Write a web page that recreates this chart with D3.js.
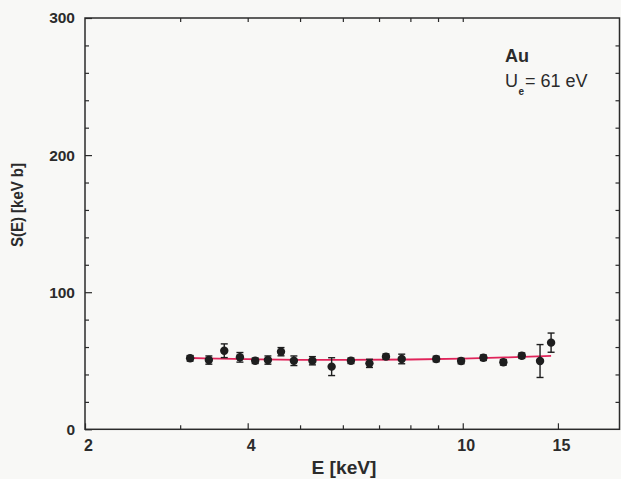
<!DOCTYPE html>
<html>
<head>
<meta charset="utf-8">
<script src="https://cdn.jsdelivr.net/npm/d3@7"></script>
<style>
  html, body { margin: 0; padding: 0; background: #f8f8f6; }
  svg { display: block; }
  text { font-family: "Liberation Sans", Arial, Helvetica, sans-serif; fill: #2b2b2b; }
</style>
</head>
<body>
<svg id="chart" width="621" height="479"></svg>
<script>
// Measured astrophysical S-factor for the Au target
const energy  = [3.13, 3.39, 3.62, 3.87, 4.13, 4.36, 4.61, 4.87, 5.27, 5.72, 6.21,
                 6.72, 7.21, 7.71, 8.93, 9.93, 10.92, 11.89, 12.86, 13.9, 14.57];
const sFactor = [51.8, 50.5, 57.3, 52.5, 50.0, 50.5, 56.6, 50.0, 50.0, 45.7, 50.0,
                 48.1, 53.0, 51.3, 51.3, 49.8, 52.2, 48.9, 53.7, 49.8, 63.2];
const sError  = [2, 3, 5, 3.5, 2, 3, 3, 3.5, 3, 6.5, 2,
                 3, 2, 3.5, 2, 2, 2, 2, 2, 12, 7];

// Screening fit curve (Ue = 61 eV)
const fitE = [3.13, 4, 5, 6, 8, 10, 12, 14.57];
const fitS = [52.0, 51.2, 50.7, 50.6, 50.9, 51.6, 52.4, 53.6];

// Axis ticks
const xLabelTicks = [2, 4, 10, 15];
const xMinorTicks = [3, 5, 6, 7, 8, 9];
const yLabelTicks = [0, 100, 200, 300];
const yMinorTicks = [20, 40, 60, 80, 120, 140, 160, 180, 220, 240, 260, 280];

(function () {
  const svg = d3.select("#chart");
  const mLeft = 85, mRight = 619.5, mTop = 18, mBottom = 429.3;

  const x = d3.scaleLog().domain([2, 19.5]).range([mLeft, mRight]);
  const y = d3.scaleLinear().domain([0, 300]).range([mBottom, mTop]);

  const ink = "#2b2b2b";

  // bottom axis with labels
  const gx = svg.append("g").attr("transform", `translate(0,${mBottom})`)
    .call(d3.axisBottom(x).tickValues(xLabelTicks).tickSize(-6).tickPadding(10)
          .tickFormat(d3.format("d")));
  gx.select(".domain").remove();
  gx.selectAll("line").attr("stroke", ink).attr("stroke-width", 1.2);
  gx.selectAll("text").attr("font-size", 16).attr("font-weight", "bold")
    .attr("fill", ink).attr("dx", 3);

  svg.append("g").attr("transform", `translate(0,${mBottom})`)
    .call(d3.axisBottom(x).tickValues(xMinorTicks).tickSize(-4).tickFormat(""))
    .call(g => g.select(".domain").remove())
    .selectAll("line").attr("stroke", ink).attr("stroke-width", 1.2);

  // top mirrored ticks
  svg.append("g").attr("transform", `translate(0,${mTop})`)
    .call(d3.axisTop(x).tickValues([...xMinorTicks, 4, 10]).tickSize(-4).tickFormat(""))
    .call(g => g.select(".domain").remove())
    .selectAll("line").attr("stroke", ink).attr("stroke-width", 1.2);

  // left axis with labels
  const gy = svg.append("g").attr("transform", `translate(${mLeft},0)`)
    .call(d3.axisLeft(y).tickValues(yLabelTicks).tickSize(-7).tickPadding(10)
          .tickFormat(d3.format("d")));
  gy.select(".domain").remove();
  gy.selectAll("line").attr("stroke", ink).attr("stroke-width", 1.2);
  gy.selectAll("text").attr("font-size", 15.5).attr("font-weight", "bold").attr("fill", ink);

  svg.append("g").attr("transform", `translate(${mLeft},0)`)
    .call(d3.axisLeft(y).tickValues(yMinorTicks).tickSize(-4).tickFormat(""))
    .call(g => g.select(".domain").remove())
    .selectAll("line").attr("stroke", ink).attr("stroke-width", 1.2);

  // right mirrored ticks
  svg.append("g").attr("transform", `translate(${mRight},0)`)
    .call(d3.axisRight(y).tickValues([...yMinorTicks, 100, 200]).tickSize(-4).tickFormat(""))
    .call(g => g.select(".domain").remove())
    .selectAll("line").attr("stroke", ink).attr("stroke-width", 1.2);

  // frame
  svg.append("rect")
    .attr("x", mLeft).attr("y", mTop)
    .attr("width", mRight - mLeft).attr("height", mBottom - mTop)
    .attr("fill", "none").attr("stroke", ink).attr("stroke-width", 1.5);

  // fit curve
  const fitData = fitE.map((e, i) => [e, fitS[i]]);
  svg.append("path")
    .datum(fitData)
    .attr("fill", "none")
    .attr("stroke", "#e0245a")
    .attr("stroke-width", 1.8)
    .attr("d", d3.line().x(d => x(d[0])).y(d => y(d[1])).curve(d3.curveMonotoneX));

  // data with error bars
  const pts = energy.map((e, i) => ({ e, s: sFactor[i], err: sError[i] }));
  const cap = 3.5;
  const eb = svg.append("g").attr("stroke", "#1e1e1e").attr("stroke-width", 1.4);
  eb.selectAll("line.v").data(pts).join("line").attr("class", "v")
    .attr("x1", d => x(d.e)).attr("x2", d => x(d.e))
    .attr("y1", d => y(d.s - d.err)).attr("y2", d => y(d.s + d.err));
  eb.selectAll("line.t").data(pts).join("line").attr("class", "t")
    .attr("x1", d => x(d.e) - cap).attr("x2", d => x(d.e) + cap)
    .attr("y1", d => y(d.s + d.err)).attr("y2", d => y(d.s + d.err));
  eb.selectAll("line.b").data(pts).join("line").attr("class", "b")
    .attr("x1", d => x(d.e) - cap).attr("x2", d => x(d.e) + cap)
    .attr("y1", d => y(d.s - d.err)).attr("y2", d => y(d.s - d.err));

  svg.append("g").selectAll("circle").data(pts).join("circle")
    .attr("cx", d => x(d.e)).attr("cy", d => y(d.s)).attr("r", 4.2)
    .attr("fill", "#1e1e1e");

  // axis titles
  svg.append("text")
    .attr("x", 344).attr("y", 474)
    .attr("text-anchor", "middle")
    .attr("font-size", 18).attr("font-weight", "bold")
    .attr("textLength", 65).attr("lengthAdjust", "spacingAndGlyphs")
    .text("E [keV]");

  svg.append("text")
    .attr("transform", "translate(23,205) rotate(-90)")
    .attr("text-anchor", "middle")
    .attr("font-size", 16.5).attr("font-weight", "bold")
    .attr("textLength", 84).attr("lengthAdjust", "spacingAndGlyphs")
    .text("S(E) [keV b]");

  // annotation
  svg.append("text")
    .attr("x", 505).attr("y", 62)
    .attr("font-size", 18).attr("font-weight", "bold")
    .text("Au");

  const ann = svg.append("text").attr("x", 505).attr("y", 87).attr("font-size", 18);
  ann.append("tspan").text("U");
  ann.append("tspan").attr("font-size", 10).attr("font-weight", "bold")
    .attr("dx", 0.5).attr("dy", 8).text("e");
  ann.append("tspan").attr("dx", 1).attr("dy", -8).text("= 61 eV");
})();
</script>
</body>
</html>
